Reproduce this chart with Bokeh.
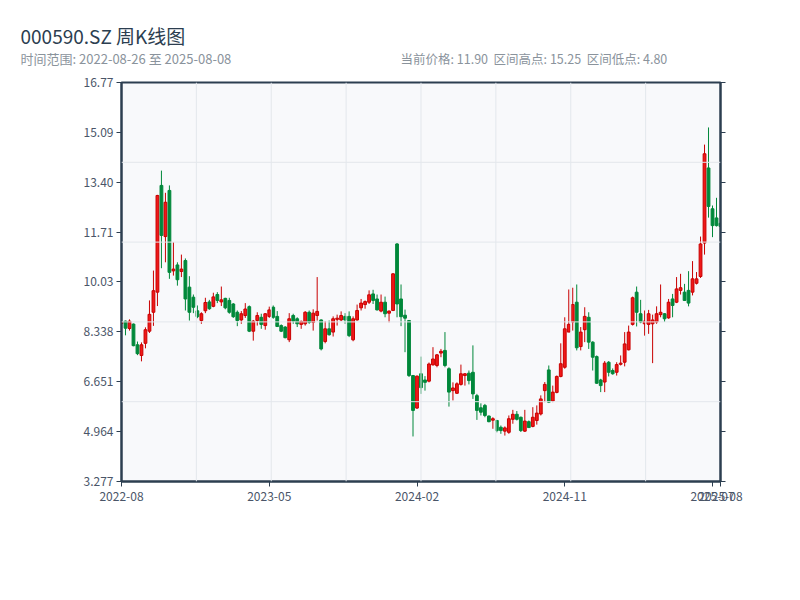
from bokeh.plotting import figure
from bokeh.layouts import column
from bokeh.models import ColumnDataSource, FixedTicker, LinearAxis, Range1d, Span
from bokeh.core.properties import value
from bokeh.embed import file_html
from bokeh.resources import INLINE

# ---------------- data ----------------
title_text = "000590.SZ 周K线图"
date_start = "2022-08-26"
date_end = "2025-08-08"

opens = [8.62, 8.70, 8.45, 8.60, 7.90, 7.54, 7.95, 8.36, 9.00, 9.68,
         13.29, 11.56, 13.12, 10.40, 10.60, 10.38, 10.75, 9.85, 9.51, 9.05,
         8.72, 9.05, 9.35, 9.20, 9.60, 9.35, 9.47, 9.40, 9.28, 9.00,
         8.74, 8.89, 9.19, 8.36, 8.72, 8.83, 8.55, 8.86, 9.17, 8.86,
         8.55, 8.50, 8.07, 8.89, 8.78, 8.59, 8.61, 9.00, 8.66, 8.89,
         8.74, 8.01, 8.44, 8.33, 8.76, 8.74, 8.86, 8.86, 8.07, 8.74,
         9.15, 9.26, 9.34, 9.62, 9.45, 9.04, 9.34, 8.97, 9.06, 11.31,
         9.45, 8.90, 8.72, 6.86, 5.76, 6.92, 6.71, 6.67, 7.22, 7.20,
         7.62, 7.71, 7.09, 6.35, 6.26, 6.56, 6.86, 6.94, 6.97, 6.18,
         5.77, 5.85, 5.49, 5.35, 5.34, 5.11, 4.98, 4.94, 5.38, 5.55,
         5.45, 4.98, 5.30, 5.14, 5.34, 5.56, 6.35, 7.05, 6.00, 6.29,
         6.83, 7.14, 8.33, 8.67, 9.34, 7.84, 8.41, 8.83, 7.99, 7.50,
         6.71, 6.64, 7.31, 7.03, 6.97, 7.24, 7.31, 7.73, 8.59, 9.68,
         8.95, 8.61, 8.59, 8.61, 8.67, 8.92, 8.95, 8.81, 9.45, 9.34,
         9.74, 9.68, 9.74, 9.68, 9.98, 10.21, 11.34, 13.88, 12.50, 12.19,
         12.01]
highs = [8.70, 8.72, 8.76, 8.62, 8.01, 7.98, 8.49, 9.40, 10.41, 12.97,
         13.79, 13.04, 13.29, 11.37, 10.69, 10.95, 10.82, 10.22, 9.60, 9.23,
         9.00, 9.49, 9.42, 9.66, 9.68, 9.87, 9.49, 9.49, 9.31, 9.06,
         9.04, 9.31, 9.23, 8.74, 9.00, 8.95, 8.97, 9.19, 9.23, 9.04,
         8.59, 8.53, 8.97, 8.95, 8.83, 8.72, 9.04, 9.06, 9.10, 10.19,
         8.76, 8.70, 8.72, 8.86, 8.92, 9.03, 8.97, 9.03, 8.86, 9.26,
         9.45, 9.40, 9.74, 9.76, 9.60, 9.60, 9.53, 9.06, 10.32, 11.34,
         9.94, 9.09, 8.74, 6.88, 6.86, 7.50, 6.84, 7.30, 7.82, 7.59,
         7.76, 8.33, 7.14, 6.63, 6.63, 7.23, 6.94, 7.03, 7.88, 6.24,
         5.92, 5.90, 5.51, 5.45, 5.36, 5.17, 5.14, 5.51, 5.70, 5.66,
         5.47, 5.70, 5.34, 5.79, 5.85, 6.19, 6.64, 7.20, 6.52, 6.86,
         7.95, 8.83, 9.77, 9.83, 9.94, 8.50, 9.17, 9.00, 8.02, 7.54,
         6.75, 7.35, 7.35, 7.10, 7.31, 7.54, 8.33, 8.55, 9.53, 9.87,
         9.42, 9.06, 9.08, 8.92, 9.20, 9.94, 8.97, 9.45, 9.62, 10.19,
         10.30, 9.96, 10.39, 10.73, 10.36, 11.56, 14.67, 15.25, 12.61, 12.87,
         12.13]
lows = [8.60, 8.22, 8.38, 7.85, 7.55, 7.34, 7.78, 8.30, 8.54, 9.21,
        10.49, 10.69, 10.13, 10.24, 9.90, 10.19, 9.06, 8.72, 8.97, 8.80,
        8.61, 8.97, 9.08, 9.17, 9.31, 9.21, 9.10, 8.95, 8.81, 8.53,
        8.61, 8.81, 8.33, 8.04, 8.55, 8.44, 8.41, 8.81, 8.78, 8.50,
        8.33, 8.12, 7.99, 8.61, 8.50, 8.44, 8.55, 8.61, 8.38, 8.72,
        7.71, 7.95, 8.21, 8.18, 8.55, 8.70, 8.61, 8.16, 8.02, 8.72,
        9.06, 9.12, 9.28, 9.28, 9.06, 9.00, 8.83, 8.66, 9.04, 8.83,
        8.53, 7.65, 6.81, 4.80, 5.73, 6.24, 6.35, 6.63, 7.20, 7.14,
        7.48, 7.14, 5.81, 6.02, 6.24, 6.52, 6.52, 6.56, 6.07, 5.36,
        5.51, 5.45, 5.28, 5.06, 4.94, 4.89, 4.83, 4.89, 5.23, 5.34,
        4.95, 4.95, 5.09, 5.11, 5.20, 5.51, 5.96, 5.93, 5.96, 6.26,
        6.80, 7.09, 8.33, 8.38, 7.71, 7.71, 7.99, 7.76, 7.03, 6.58,
        6.30, 6.30, 6.83, 6.89, 6.86, 7.20, 7.17, 7.71, 8.55, 8.52,
        8.63, 8.21, 8.27, 7.28, 8.61, 8.83, 8.67, 8.78, 8.83, 9.31,
        9.60, 9.38, 9.20, 9.57, 9.94, 10.16, 10.95, 12.20, 11.54, 11.90,
        11.52]
closes = [8.66, 8.46, 8.70, 7.87, 7.60, 7.90, 8.41, 8.93, 9.73, 12.95,
          11.60, 12.72, 10.35, 10.46, 10.10, 10.46, 9.45, 9.00, 9.17, 8.85,
          8.95, 9.33, 9.12, 9.52, 9.40, 9.42, 9.15, 9.00, 8.85, 8.72,
          8.95, 9.11, 8.36, 8.70, 8.89, 8.59, 8.95, 9.08, 8.83, 8.52,
          8.36, 8.14, 8.78, 8.70, 8.61, 8.69, 9.00, 8.66, 8.97, 9.03,
          7.76, 8.44, 8.24, 8.78, 8.80, 8.89, 8.74, 8.21, 8.78, 9.06,
          9.31, 9.36, 9.59, 9.40, 9.08, 9.34, 8.95, 9.04, 10.30, 9.28,
          8.85, 8.80, 6.86, 5.68, 6.84, 6.45, 6.63, 7.25, 7.42, 7.56,
          7.68, 7.20, 6.30, 6.44, 6.58, 6.92, 6.92, 6.69, 6.24, 5.68,
          5.62, 5.51, 5.30, 5.40, 5.00, 5.00, 5.09, 5.40, 5.55, 5.38,
          5.00, 5.32, 5.10, 5.45, 5.59, 6.07, 6.56, 5.96, 6.30, 6.83,
          7.26, 8.44, 8.59, 9.26, 7.80, 8.33, 8.86, 7.99, 7.48, 6.60,
          6.52, 7.28, 6.97, 6.92, 7.23, 7.28, 7.93, 8.33, 9.49, 9.00,
          8.67, 8.70, 8.95, 8.74, 8.95, 9.00, 8.78, 9.34, 9.23, 9.79,
          9.83, 9.40, 9.31, 10.13, 10.13, 11.31, 14.36, 12.58, 11.93, 11.93,
          11.90]

x_tick_pos = [0, 37, 74, 111, 148, 150]
x_tick_labels = ["2022-08", "2023-05", "2024-02", "2024-11", "2025-07", "2025-08"]
y_ticks = [3.277, 4.964, 6.651, 8.338, 10.03, 11.71, 13.40, 15.09, 16.77]
y_tick_labels = ["3.277", "4.964", "6.651", "8.338", "10.03", "11.71", "13.40", "15.09", "16.77"]

# ---------------- styling / layout ----------------
RED_FILL = "#f01818"
RED_LINE = "#c80000"
GREEN = "#00883a"
AXIS = "#2c3e50"
GRID = "#e3e7ec"
SUB = "#8a939c"
TICK_TXT = "#4a5568"
FONT = "Noto Sans CJK SC"
W = 790
HEAD_H = 70
FL, FT, FR, FB = 121, 82, 720, 481       # frame edges in page pixels

# ---------------- header figure (title + subtitle) ----------------
head = figure(width=W, height=HEAD_H, output_backend="svg", toolbar_location=None,
              x_range=Range1d(0, W), y_range=Range1d(HEAD_H, 0),
              min_border=0, min_border_left=0, min_border_right=0,
              min_border_top=0, min_border_bottom=0)
head.frame_align = False
head.axis.visible = False
head.grid.visible = False
head.outline_line_color = None
head.background_fill_color = "white"
head.border_fill_color = "white"

sp = "\u00a0\u00a0"
sub_left = f"时间范围: {date_start} 至 {date_end}"
sub_right = f"当前价格: {closes[-1]:.2f}{sp}区间高点: {max(highs):.2f}{sp}区间低点: {min(lows):.2f}"
head.text(x=[20], y=[35], text=[title_text], text_baseline="middle", text_align="left",
          text_font=value(FONT), text_font_size=value("19px"), text_color=AXIS)
head.text(x=[20], y=[58], text=[sub_left], text_baseline="middle", text_align="left",
          text_font=value(FONT), text_font_size=value("13px"), text_color=SUB)
head.text(x=[400], y=[58], text=[sub_right], text_baseline="middle", text_align="left",
          text_font=value(FONT), text_font_size=value("12.5px"), text_color=SUB)

# ---------------- candles ----------------
n = len(opens)
idx = list(range(n))
up = [c >= o for o, c in zip(opens, closes)]

def subset(flag):
    sel = [i for i in idx if up[i] == flag]
    return ColumnDataSource(dict(
        x=sel,
        top=[max(opens[i], closes[i]) for i in sel],
        bottom=[min(opens[i], closes[i]) for i in sel],
        high=[highs[i] for i in sel],
        low=[lows[i] for i in sel],
    ))

src_up = subset(True)
src_dn = subset(False)

x0, x1 = 0, n - 1
y0, y1 = y_ticks[0], y_ticks[-1]

H = 520
p = figure(width=W, height=H, output_backend="svg", toolbar_location=None,
           x_range=Range1d(x0, x1), y_range=Range1d(y0, y1),
           min_border_left=FL, min_border_right=W - FR,
           min_border_top=FT - HEAD_H, min_border_bottom=H - (FB - HEAD_H))
p.frame_align = False
p.background_fill_color = "#f8f9fb"
p.border_fill_color = "white"
p.outline_line_color = AXIS
p.outline_line_width = 2
p.xgrid.visible = False
p.ygrid.visible = False

for k in range(1, 5):
    p.add_layout(Span(location=y0 + k * (y1 - y0) / 5, dimension="width", line_color=GRID, line_width=1))
for k in range(1, 8):
    p.add_layout(Span(location=x0 + k * (x1 - x0) / 8, dimension="height", line_color=GRID, line_width=1))

p.segment(x0="x", y0="low", x1="x", y1="high", source=src_up, line_color=RED_LINE, line_width=1)
p.vbar(x="x", width=0.7, top="top", bottom="bottom", source=src_up,
       fill_color=RED_FILL, line_color=RED_LINE, line_width=1)
p.segment(x0="x", y0="low", x1="x", y1="high", source=src_dn, line_color=GREEN, line_width=1)
p.vbar(x="x", width=0.7, top="top", bottom="bottom", source=src_dn,
       fill_color=GREEN, line_color=GREEN, line_width=1)

def style_axis(ax):
    ax.axis_line_color = AXIS
    ax.axis_line_width = 2
    ax.major_tick_line_color = AXIS
    ax.major_tick_line_width = 1
    ax.major_tick_out = 5
    ax.major_tick_in = 0
    ax.minor_tick_line_color = None
    ax.major_label_text_color = TICK_TXT
    ax.major_label_text_font = FONT
    ax.major_label_text_font_size = "12px"

p.xaxis.ticker = FixedTicker(ticks=x_tick_pos)
p.xaxis.major_label_overrides = {t: s for t, s in zip(x_tick_pos, x_tick_labels)}
style_axis(p.xaxis[0])
p.xaxis.major_label_standoff = 5

p.yaxis.ticker = FixedTicker(ticks=y_ticks)
p.yaxis.major_label_overrides = {t: s for t, s in zip(y_ticks, y_tick_labels)}
style_axis(p.yaxis[0])
p.yaxis.major_label_standoff = 3

right = LinearAxis(ticker=FixedTicker(ticks=y_ticks))
style_axis(right)
right.major_label_overrides = {t: "" for t in y_ticks}
p.add_layout(right, "right")

layout = column(head, p, spacing=0)
open("out.html", "w").write(file_html(layout, INLINE))
